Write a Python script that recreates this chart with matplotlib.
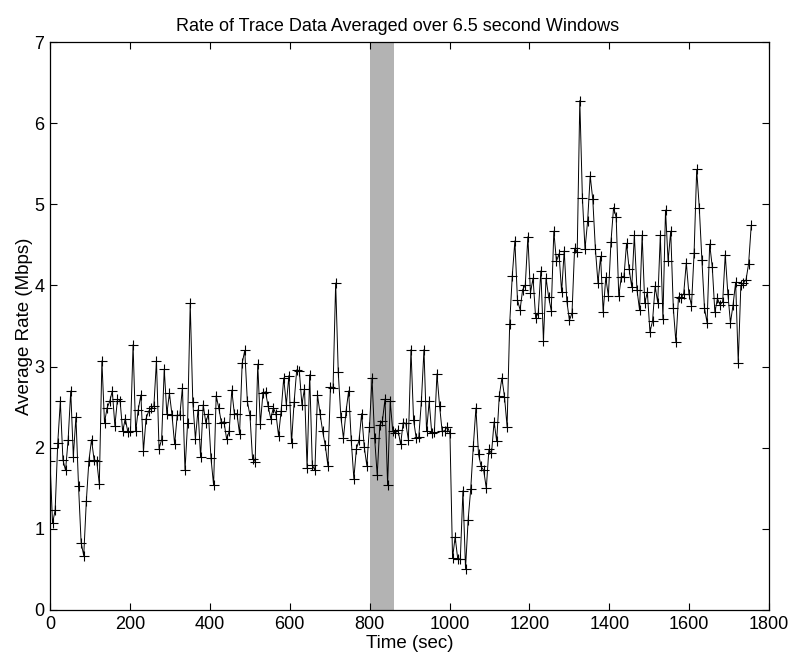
import numpy as np
import matplotlib
matplotlib.use("Agg")
import matplotlib.pyplot as plt

# average rate (Mbps) per 6.5 s window
window = 6.5
rate = [
    1.84, 1.07, 1.23, 2.06, 2.57, 1.85, 1.72, 2.10, 2.70, 1.89, 2.38, 1.53, 0.83, 0.67, 1.34, 1.84,
    2.10, 1.85, 1.84, 1.55, 3.07, 2.31, 2.49, 2.57, 2.70, 2.27, 2.60, 2.58, 2.20, 2.36, 2.19, 2.20,
    3.27, 2.20, 2.47, 2.65, 1.96, 2.36,
    2.45, 2.49, 2.51, 3.07, 1.99, 2.10, 2.97, 2.42, 2.67, 2.40, 2.04, 2.40, 2.40, 2.74, 1.72, 2.31,
    3.78, 2.56, 2.11, 2.47, 1.88, 2.53, 2.31, 2.42, 1.87, 1.54, 2.64, 2.49, 2.31, 2.32, 2.11, 2.20,
    2.71, 2.42, 2.42, 2.17,
    3.04, 3.20, 2.57, 2.40, 1.86, 1.83, 3.03, 2.29, 2.67, 2.69, 2.51, 2.36, 2.49, 2.42, 2.15, 2.45,
    2.86, 2.53, 2.89, 2.06, 2.56, 2.96, 2.95, 2.53, 2.73, 1.75, 2.90, 1.79, 1.72, 2.65, 2.42, 2.20,
    2.03, 1.78, 2.75, 2.74, 4.03,
    2.93, 2.38, 2.12, 2.45, 2.70, 2.09, 1.62, 1.99, 2.09, 2.42, 2.01, 1.78, 2.25, 2.86, 2.12, 1.66,
    2.28, 2.33, 2.60, 1.54, 2.57, 2.20, 2.18, 2.22, 2.04, 2.31, 2.30, 2.10, 3.21, 2.34, 2.12, 2.13,
    2.57, 3.21, 2.20, 2.57,
    2.18, 2.19, 2.91, 2.52, 2.20, 2.21, 2.26, 2.18, 0.64, 0.90, 0.63, 0.63, 1.47, 0.51, 1.11, 1.49,
    2.02, 2.49, 1.92, 1.77, 1.72, 1.50, 1.98, 1.93, 2.32, 2.08, 2.64, 2.86, 2.63, 2.26, 3.53, 4.12,
    4.55, 3.82, 3.70, 3.95, 4.00,
    4.60, 3.91, 4.09, 3.60, 3.66, 4.18, 3.32, 4.09, 3.86, 3.69, 4.67, 4.30, 4.39, 3.92, 4.43, 3.81,
    3.57, 3.66, 4.46, 4.41, 6.28, 5.08, 4.45, 4.79, 5.35, 5.06, 4.45, 4.03, 4.36, 3.67, 4.10, 3.87,
    4.54, 4.96, 4.84, 3.87,
    4.11, 4.11, 4.52, 4.20, 3.98, 4.62, 3.95, 3.70, 4.62, 3.78, 3.92, 3.43, 3.56, 3.99, 3.79, 4.62,
    3.59, 4.93, 4.30, 4.67, 3.72, 3.30, 3.86, 3.84, 3.90, 4.28, 3.90, 3.75, 4.40, 5.43, 4.96, 4.32,
    3.72, 3.54, 4.51, 4.23,
    3.67, 3.84, 3.76, 3.80, 4.38, 3.90, 3.54, 3.76, 4.04, 3.05, 4.00, 4.03, 4.07, 4.27, 4.74,
]
t = window * np.arange(len(rate))

# shaded interval
shade_start, shade_end = 800, 862

plt.rcParams["font.family"] = ["Liberation Sans", "DejaVu Sans"]

fig = plt.figure(figsize=(7.93, 6.58), dpi=100)
ax = fig.add_axes([0.063, 0.073, 0.907, 0.863])

ax.axvspan(shade_start, shade_end, color="#b3b3b3", lw=0, zorder=1)
ax.plot(t, rate, color="black", linewidth=0.7, marker="+", markersize=7,
        markeredgewidth=0.8, zorder=3)

ax.set_xlim(0, 1800)
ax.set_ylim(0, 7)
ax.set_xticks(np.arange(0, 1801, 200))
ax.set_yticks(np.arange(0, 8, 1))
ax.tick_params(direction="in", top=True, right=True, length=5, labelsize=13, pad=4)
for s in ax.spines.values():
    s.set_linewidth(0.9)

ax.set_xlabel("Time (sec)", fontsize=13.5, labelpad=2)
ax.set_ylabel("Average Rate (Mbps)", fontsize=13.5, labelpad=1)
ax.set_title("Rate of Trace Data Averaged over 6.5 second Windows", fontsize=13, pad=8, x=0.483)

fig.savefig("out.png", dpi=100)
